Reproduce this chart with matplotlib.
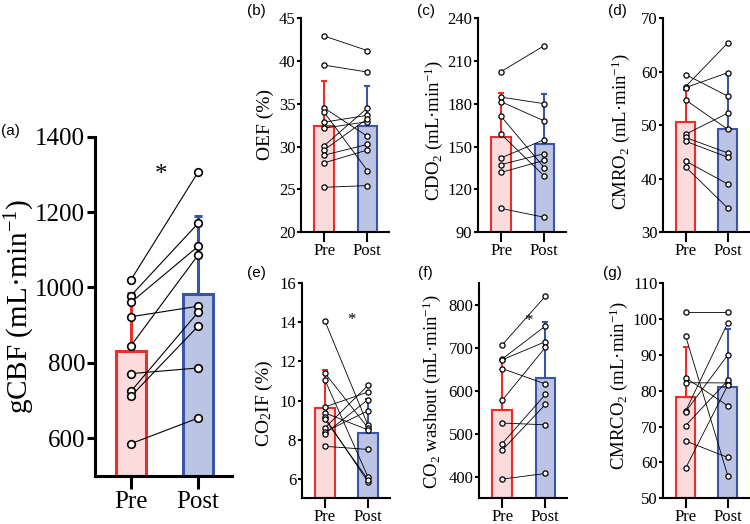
import matplotlib
matplotlib.use('Agg')
import matplotlib.pyplot as plt

plt.rcParams['font.family'] = ['Liberation Serif', 'DejaVu Serif']
plt.rcParams['mathtext.fontset'] = 'custom'
plt.rcParams['mathtext.rm'] = 'Liberation Serif'
plt.rcParams['mathtext.it'] = 'Liberation Serif:italic'
plt.rcParams['mathtext.bf'] = 'Liberation Serif:bold'

groups = ['Pre', 'Post']

# (a) gCBF
cbf_pre = [1020, 978, 960, 922, 845, 771, 724, 711, 585]
cbf_post = [1306, 1170, 1109, 950, 1086, 786, 934, 897, 653]
cbf_mean = [831, 982]
cbf_err = [985, 1189]

# (b) OEF
oef_pre = [42.9, 39.5, 34.5, 34.0, 32.85, 32.15, 30.1, 29.6, 29.0, 28.1, 25.25]
oef_post = [41.2, 38.7, 31.2, 27.2, 33.65, 32.9, 34.5, 33.25, 30.25, 29.6, 25.45]
oef_mean = [32.4, 32.4]
oef_err = [37.7, 37.1]

# (c) CDO2
cdo_pre = [202.5, 184.6, 181.4, 171.1, 158.6, 142.1, 137.4, 131.9, 106.7]
cdo_post = [220.7, 180.0, 167.9, 135.1, 129.3, 154.9, 145.1, 140.4, 100.5]
cdo_mean = [156.7, 151.6]
cdo_err = [187.5, 187.0]

# (d) CMRO2
cmro_pre = [59.45, 57.2, 57.0, 54.7, 48.3, 47.7, 47.0, 43.3, 42.2]
cmro_post = [55.4, 65.35, 59.8, 49.2, 52.25, 44.8, 44.0, 39.0, 34.5]
cmro_mean = [50.5, 49.2]
cmro_err = [56.6, 59.5]

# (e) CO2IF
co2if_pre = [14.08, 11.41, 11.07, 9.67, 9.37, 9.14, 9.05, 8.6, 8.4, 8.3, 7.66]
co2if_post = [8.73, 8.6, 6.08, 10.44, 8.5, 5.83, 5.95, 10.78, 9.48, 10.05, 7.5]
co2if_mean = [9.62, 8.35]
co2if_err = [11.54, 10.1]

# (f) CO2 washout
wash_pre = [706.6, 674, 672, 651.7, 577.6, 525, 477, 461.8, 394.6]
wash_post = [820, 750.6, 714.3, 616, 701, 521, 591.5, 568.3, 407.7]
wash_mean = [554.4, 630]
wash_err = [671.8, 759]

# (g) CMRCO2
cmrco_pre = [101.9, 95.3, 83.65, 82.25, 74.35, 74.2, 70.3, 66.0, 58.4]
cmrco_post = [101.9, 56.2, 75.8, 82.2, 99.0, 90.0, 82.9, 61.4, 81.6]
cmrco_mean = [78.2, 81.2]
cmrco_err = [92.1, 97.3]

W, H = 750, 524
fig = plt.figure(figsize=(W / 100, H / 100), dpi=100)

face = ['#fbdbdc', '#bcc4e5']
edge = ['#ee2d26', '#3a55a5']


def make_ax(l, t, r, b):
    return fig.add_axes([l / W, 1 - b / H, (r - l) / W, (b - t) / H])


def panel(rect, pre, post, mean, top, ylim, yticks, big=False):
    ax = make_ax(*rect)
    x = [0, 1]
    lw_edge = 2.2 if big else 1.5
    lw_ax = 2.2 if big else 1.5
    for i in range(2):
        ax.bar(x[i], mean[i] - ylim[0], bottom=ylim[0], width=0.45,
               color=face[i], edgecolor=edge[i], linewidth=lw_edge, zorder=1)
        ax.errorbar(x[i], mean[i], yerr=[[0], [top[i] - mean[i]]],
                    ecolor=edge[i], elinewidth=lw_edge, capsize=3.0 if big else 2.2,
                    capthick=lw_edge, fmt='none', zorder=2)
    for a, b in zip(pre, post):
        ax.plot([0, 1], [a, b], color='black', lw=0.8 if big else 0.6, zorder=3)
    ax.scatter([0] * len(pre), pre, s=30 if big else 14, facecolor='white',
               edgecolor='black', linewidth=1.2 if big else 0.9, zorder=4)
    ax.scatter([1] * len(post), post, s=30 if big else 14, facecolor='white',
               edgecolor='black', linewidth=1.2 if big else 0.9, zorder=4)
    ax.set_xlim(-0.535, 1.5)
    ax.set_ylim(*ylim)
    ax.set_yticks(yticks)
    ax.set_xticks(x)
    ax.set_xticklabels(groups)
    for s in ['top', 'right']:
        ax.spines[s].set_visible(False)
    for s in ['left', 'bottom']:
        ax.spines[s].set_linewidth(lw_ax)
    fs = 18 if big else 12
    ax.tick_params(axis='y', length=6 if big else 3, width=lw_ax, labelsize=fs, pad=1)
    ax.tick_params(axis='x', length=9 if big else 7, width=lw_ax, labelsize=fs,
                   pad=2 if big else 0.5)
    ax.patch.set_alpha(0)
    return ax


ax_a = panel((95, 136.7, 231.7, 475.7), cbf_pre, cbf_post, cbf_mean, cbf_err,
             (500, 1400), list(range(600, 1401, 200)), big=True)
ax_b = panel((301, 18, 389, 232.3), oef_pre, oef_post, oef_mean, oef_err,
             (20, 45), list(range(20, 46, 5)))
ax_c = panel((478, 18, 566, 232.3), cdo_pre, cdo_post, cdo_mean, cdo_err,
             (90, 240), list(range(90, 241, 30)))
ax_d = panel((663, 18, 749, 232.3), cmro_pre, cmro_post, cmro_mean, cmro_err,
             (30, 70), list(range(30, 71, 10)))
ax_e = panel((301.7, 283.3, 389.7, 498.3), co2if_pre, co2if_post, co2if_mean, co2if_err,
             (5, 16), list(range(6, 17, 2)))
ax_f = panel((479, 283.3, 567, 498.3), wash_pre, wash_post, wash_mean, wash_err,
             (350, 850), list(range(400, 801, 100)))
ax_g = panel((663, 283.3, 749, 498.3), cmrco_pre, cmrco_post, cmrco_mean, cmrco_err,
             (50, 110), list(range(50, 111, 10)))

# asterisks
ax_a.text(0.446, 1298, '*', fontsize=18, ha='center', va='center')
ax_e.text(0.615, 14.1, '*', fontsize=12, ha='center', va='center')
ax_f.text(0.617, 762, '*', fontsize=12, ha='center', va='center')

# y labels
ylabels = [
    (20, 306, 'gCBF (mL·min$^{-1}$)', 21),
    (265, 125, 'OEF (%)', 14),
    (434, 130, 'CDO$_2$ (mL·min$^{-1}$)', 13.5),
    (621, 132, 'CMRO$_2$ (mL·min$^{-1}$)', 13.5),
    (264, 403, 'CO$_2$IF (%)', 14),
    (432, 392, 'CO$_2$ washout (mL·min$^{-1}$)', 13.5),
    (619, 385, 'CMRCO$_2$ (mL·min$^{-1}$)', 13.5),
]
for xp, yp, txt, fs in ylabels:
    fig.text(xp / W, 1 - yp / H, txt, rotation=90, ha='center', va='center', fontsize=fs)

# panel letters
letters = [('(a)', 10, 131), ('(b)', 256, 11), ('(c)', 426, 11), ('(d)', 617, 11),
           ('(e)', 256, 273), ('(f)', 425, 273), ('(g)', 612, 273)]
for t, xp, yp in letters:
    fig.text(xp / W, 1 - yp / H, t, ha='center', va='center', fontsize=11,
             family=['Liberation Sans', 'DejaVu Sans'])

fig.savefig('out.png', dpi=100)
